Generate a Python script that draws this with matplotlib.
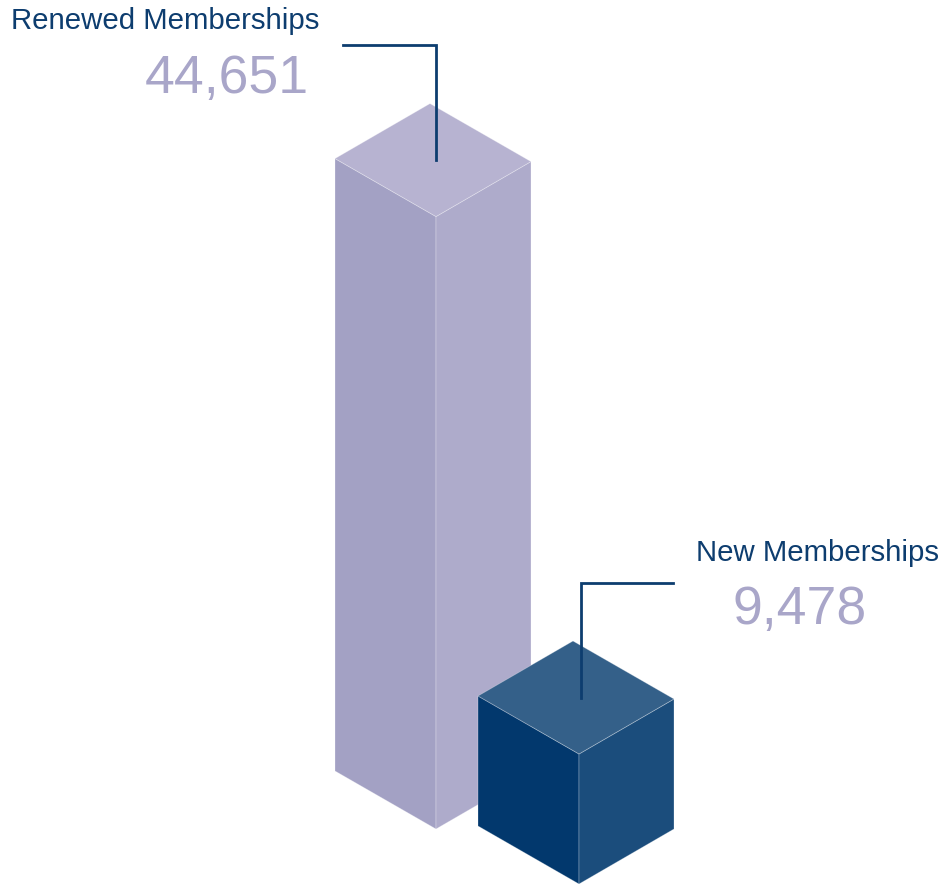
import matplotlib
matplotlib.use("Agg")
import matplotlib.pyplot as plt
from matplotlib.patches import Polygon

# data
labels = ["Renewed Memberships", "New Memberships"]
values = [44651, 9478]

# colours: left face, right face, top face
face_colors = [("#a3a1c4", "#aeabcb", "#b7b3d1"),
               ("#02386d", "#1b4d7c", "#346089")]
text_blue = "#0d3d6f"
num_purple = "#a9a6c9"

# layout (pixel space)
base_front = [(436, 829), (579, 884)]   # bottom front corner of each prism
left_off = (-101, -58)
right_off = (95, -55)
px_per_unit = 130 / 9478.0

fig = plt.figure(figsize=(9.46, 8.86), dpi=100)
ax = fig.add_axes([0, 0, 1, 1])
ax.set_xlim(0, 946)
ax.set_ylim(886, 0)
ax.axis("off")

tops = []
for i, v in enumerate(values):
    fx, fy = base_front[i]
    h = v * px_per_unit
    ty = fy - h
    lc, rc, tc = face_colors[i]
    left = [(fx, fy), (fx + left_off[0], fy + left_off[1]),
            (fx + left_off[0], ty + left_off[1]), (fx, ty)]
    right = [(fx, fy), (fx + right_off[0], fy + right_off[1]),
             (fx + right_off[0], ty + right_off[1]), (fx, ty)]
    top = [(fx, ty), (fx + left_off[0], ty + left_off[1]),
           (fx + left_off[0] + right_off[0], ty + left_off[1] + right_off[1]),
           (fx + right_off[0], ty + right_off[1])]
    for pts, c in [(left, lc), (right, rc), (top, tc)]:
        ax.add_patch(Polygon(pts, closed=True, facecolor=c,
                             edgecolor=(1, 1, 1, 0.3), linewidth=0.6, zorder=2 + i))
    tops.append((fx, ty))

# leader lines
fx, ty = tops[0]
ax.plot([343, fx, fx], [45, 45, ty - 57], color=text_blue, lw=2, zorder=5,
        solid_joinstyle="miter")
fx, ty = tops[1]
ax.plot([673, fx + 2, fx + 2], [583, 583, ty - 56], color=text_blue, lw=2, zorder=5,
        solid_joinstyle="miter")

font = "Liberation Sans"
ax.text(11, 29, labels[0], fontsize=21.2, color=text_blue, family=font,
        ha="left", va="baseline")
ax.text(309, 93, f"{values[0]:,}", fontsize=38.5, color=num_purple, family=font,
        ha="right", va="baseline")
ax.text(696, 561, labels[1], fontsize=21.2, color=text_blue, family=font,
        ha="left", va="baseline")
ax.text(732, 624, f"{values[1]:,}", fontsize=38.5, color=num_purple, family=font,
        ha="left", va="baseline")

fig.savefig("out.png", dpi=100)
